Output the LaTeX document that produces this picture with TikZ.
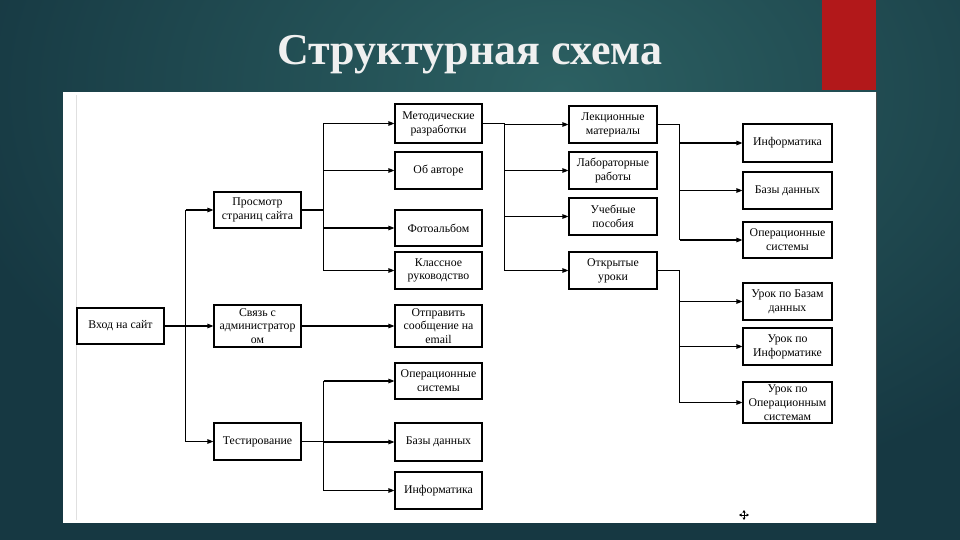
\documentclass[tikz,border=0pt]{standalone}
\usepackage{fontspec}
\setmainfont{Liberation Serif}
\usetikzlibrary{arrows.meta,calc}
\definecolor{bgin}{RGB}{44,96,98}
\definecolor{bgout}{RGB}{22,56,66}
\definecolor{redbar}{RGB}{178,24,26}
\tikzset{
  box/.style={draw, line width=1.1pt, fill=white, align=center, inner sep=1pt,
    font=\fontsize{11.8}{13.8}\selectfont, minimum width=87pt},
  arr/.style={line width=1.1pt, -{Triangle[length=6pt,width=4.5pt]}},
  ln/.style={line width=1.1pt}
}
\begin{document}
\begin{tikzpicture}[x=1pt,y=-1pt]
\useasboundingbox (0,0) rectangle (960,540);
% background
\begin{scope}
\clip (0,0) rectangle (960,540);
\fill[bgout] (0,0) rectangle (960,540);
\shade[inner color=bgin, outer color=bgout] (560,90) ellipse (620pt and 420pt);
\end{scope}
\fill[redbar] (822,0) rectangle (876,90);
\node[text=white!94!black, font=\bfseries\fontsize{44}{48}\selectfont] (title) at (470,55) {Структурная схема};
% panel
\fill[white] (63,92) rectangle (876,523);
\draw[black!70, line width=1pt] (876,92) -- (876,523);
\draw[black!12, line width=0.8pt] (76,95) -- (76,520);
% column 1
\node[box, minimum height=36pt] (vhod) at (120.5,326) {Вход на сайт};
% column 2
\node[box, minimum height=36pt] (prosm) at (257.5,210) {Просмотр\\страниц сайта};
\node[box, minimum height=42pt] (svyaz) at (257.5,326) {Связь с\\администратор\\ом};
\node[box, minimum height=37pt] (test) at (257.5,441.5) {Тестирование};
% column 3
\node[box, minimum height=39pt] (metod) at (438.5,123.5) {Методические\\разработки};
\node[box, minimum height=37pt] (avtor) at (438.5,170.5) {Об авторе};
\node[box, minimum height=36pt] (foto) at (438.5,228) {Фотоальбом};
\node[box, minimum height=37pt] (klass) at (438.5,270.5) {Классное\\руководство};
\node[box, minimum height=42pt] (otpr) at (438.5,326) {Отправить\\сообщение на\\email};
\node[box, minimum height=36pt] (os1) at (438.5,381) {Операционные\\системы};
\node[box, minimum height=38pt] (bd1) at (438.5,442) {Базы данных};
\node[box, minimum height=37pt] (inf1) at (438.5,490.5) {Информатика};
% column 4
\node[box, minimum width=88pt, minimum height=37pt] (lek) at (613,124.5) {Лекционные\\материалы};
\node[box, minimum width=88pt, minimum height=37pt] (lab) at (613,170.5) {Лабораторные\\работы};
\node[box, minimum width=88pt, minimum height=37pt] (ucheb) at (613,216.5) {Учебные\\пособия};
\node[box, minimum width=88pt, minimum height=37pt] (otkr) at (613,270.5) {Открытые\\уроки};
% column 5
\node[box, minimum width=89pt, minimum height=38pt] (inf2) at (787.5,143) {Информатика};
\node[box, minimum width=89pt, minimum height=37pt] (bd2) at (787.5,190.5) {Базы данных};
\node[box, minimum width=89pt, minimum height=36pt] (os2) at (787.5,240) {Операционные\\системы};
\node[box, minimum width=89pt, minimum height=37pt] (ubd) at (787.5,301.5) {Урок по Базам\\данных};
\node[box, minimum width=89pt, minimum height=37pt] (uinf) at (787.5,346.5) {Урок по\\Информатике};
\node[box, minimum width=89pt, minimum height=41pt] (uos) at (787.5,402.5) {Урок по\\Операционным\\системам};
% junction points
\coordinate (j0) at ($(vhod.east)+(21,0)$);
\coordinate (j1) at ($(prosm.east)+(22,0)$);
\coordinate (j2) at ($(test.east)+(22,0)$);
\coordinate (j3) at ($(metod.east)+(22,0)$);
\coordinate (j4) at ($(lek.east)+(22,0)$);
\coordinate (j5) at ($(otkr.east)+(22,0)$);
% connectors
\draw[arr] (vhod.east) -- (svyaz.west);
\draw[ln] (j0 |- prosm.west) -- (j0 |- test.west);
\draw[arr] (j0 |- prosm.west) -- (prosm.west);
\draw[arr] (j0 |- test.west) -- (test.west);
% from Просмотр
\draw[ln] (prosm.east) -- (j1);
\draw[ln] (j1 |- metod.west) -- (j1 |- klass.west);
\foreach \t in {metod,avtor,foto,klass}
  \draw[arr] (j1 |- \t.west) -- (\t.west);
\draw[arr] (svyaz.east) -- (otpr.west);
% from Тестирование
\draw[ln] (test.east) -- (j2);
\draw[ln] (j2 |- os1.west) -- (j2 |- inf1.west);
\foreach \t in {os1,bd1,inf1}
  \draw[arr] (j2 |- \t.west) -- (\t.west);
% from Методические
\draw[ln] (metod.east) -- (j3);
\draw[ln] (j3 |- lek.west) -- (j3 |- otkr.west);
\foreach \t in {lek,lab,ucheb,otkr}
  \draw[arr] (j3 |- \t.west) -- (\t.west);
% from Лекционные
\draw[ln] (lek.east) -- (j4) -- (j4 |- os2.west);
\foreach \t in {inf2,bd2,os2}
  \draw[arr] (j4 |- \t.west) -- (\t.west);
% from Открытые
\draw[ln] (otkr.east) -- (j5) -- (j5 |- uos.west);
\foreach \t in {ubd,uinf,uos}
  \draw[arr] (j5 |- \t.west) -- (\t.west);
% cursor mark
\coordinate (cur) at (744,515);
\draw[line width=0.9pt, {Triangle[length=2.5pt,width=3pt]}-{Triangle[length=2.5pt,width=3pt]}] ([xshift=-5pt]cur) -- ([xshift=5pt]cur);
\draw[line width=0.9pt, {Triangle[length=2.5pt,width=3pt]}-{Triangle[length=2.5pt,width=3pt]}] ([yshift=-5pt]cur) -- ([yshift=5pt]cur);
\end{tikzpicture}
\end{document}
